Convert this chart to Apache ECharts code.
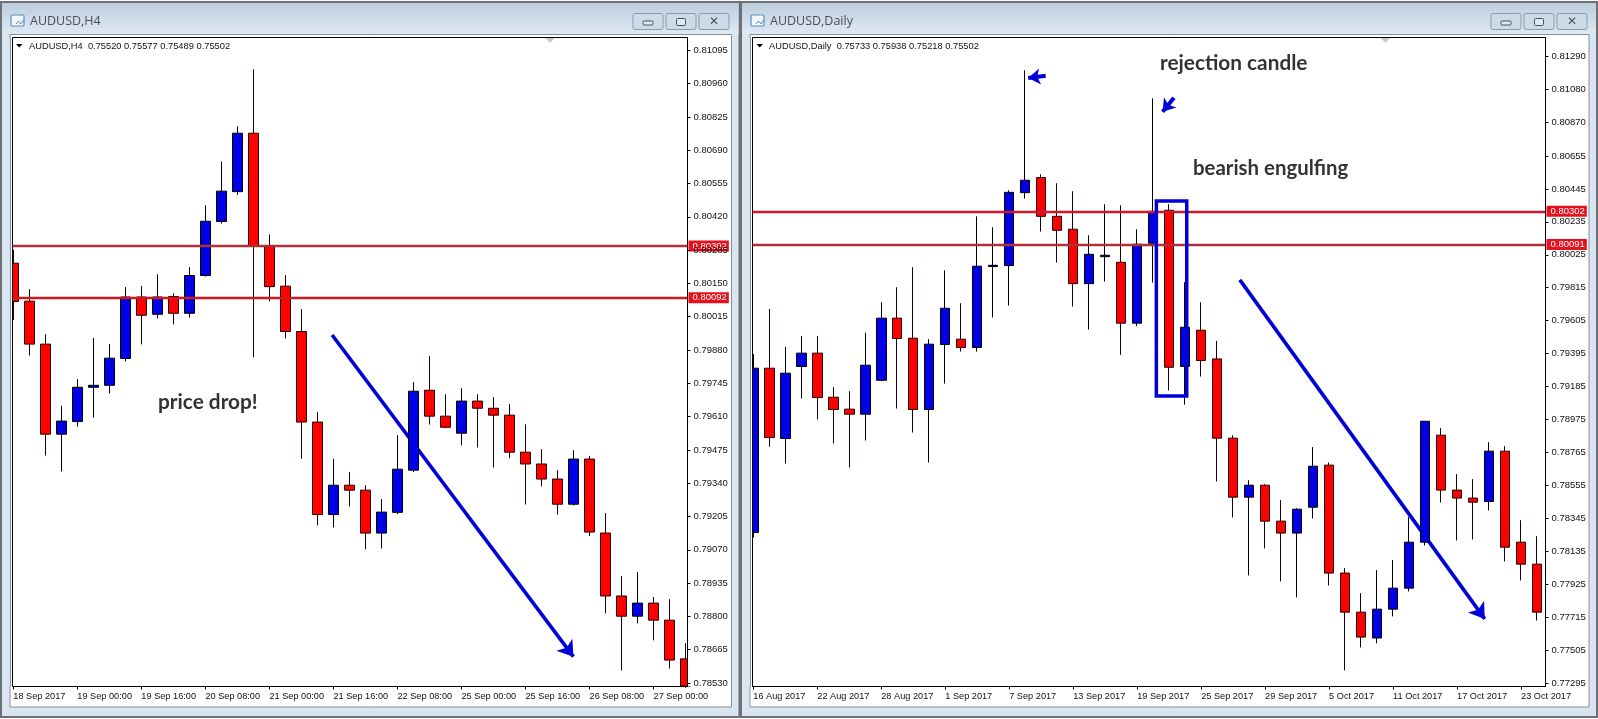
<!DOCTYPE html>
<html lang="en">
<head>
    <meta charset="UTF-8">
    <title>AUDUSD H4 / Daily</title>
    <style>
        *{
            margin:0;
            padding:0;
        }
        html,body{
            background:#fff;
            overflow:hidden;
        }
        #box{
            width:1598px;
            height:719px;
        }
    </style>
    <script src="https://cdn.jsdelivr.net/npm/echarts@6/dist/echarts.min.js"></script>
</head>
<body>
    <div id="box"></div>
    <script>
        // H4 window
        var h4Open = [.80232,.80078,.79904,.79539,.79590,.79729,.79737,.79846,.80095,.80025,.80097,.80029,.80182,.80401,.80522,.80759,.80302,.80139,.79955,.79588,.79213,.79332,.79312,.79138,.79222,.79393,.79717,.79612,.79543,.79673,.79644,.79616,.79466,.79418,.79357,.79255,.79438,.79138,.78883,.78801,.78854,.78785,.78628];
        var h4Close = [.80077,.79904,.79539,.79592,.79729,.79737,.79847,.80095,.80021,.80095,.80029,.80182,.80402,.80524,.80759,.80302,.80137,.79955,.79588,.79213,.79332,.79312,.79138,.79223,.79397,.79713,.79612,.79567,.79673,.79644,.79616,.79466,.79418,.79357,.79255,.79438,.79142,.78883,.78801,.78854,.78785,.78623,.78518];
        var h4Low = [.80002,.79858,.79452,.79388,.79570,.79606,.79704,.79834,.79903,.80009,.79984,.80012,.80178,.80393,.80509,.79850,.80077,.79927,.79439,.79169,.79161,.79246,.79072,.79076,.79215,.79385,.79578,.79563,.79493,.79485,.79404,.79441,.79254,.79327,.79213,.79250,.79126,.78812,.78581,.78772,.78703,.78589,.78510];
        var h4High = [.80286,.80127,.79944,.79654,.79762,.79929,.79904,.80135,.80140,.80187,.80110,.80216,.80467,.80644,.80787,.81018,.80349,.80184,.80046,.79628,.79439,.79385,.79332,.79276,.79535,.79750,.79856,.79701,.79725,.79701,.79689,.79661,.79579,.79478,.79393,.79474,.79450,.79219,.78964,.78980,.78879,.78870,.78692];
        var h4Prices = [.81095,.80960,.80825,.80690,.80555,.80420,.80285,.80150,.80015,.79880,.79745,.79610,.79475,.79340,.79205,.79070,.78935,.78800,.78665,.78530];
        var h4TickIdx = [0,4,8,12,16,20,24,28,32,36,40];
        var h4TickLabels = ['18 Sep 2017','19 Sep 00:00','19 Sep 16:00','20 Sep 08:00','21 Sep 00:00','21 Sep 16:00','22 Sep 08:00','25 Sep 00:00','25 Sep 16:00','26 Sep 08:00','27 Sep 00:00'];
        var h4Levels = [.80302,.80092];

        // Daily window
        var dayOpen = [.78255,.79302,.78854,.79313,.79398,.79117,.79041,.79009,.79225,.79621,.79493,.79039,.79453,.79487,.79434,.79950,.79956,.80421,.80517,.80270,.80188,.79841,.80013,.79977,.79589,.80098,.80309,.79313,.79544,.79361,.78856,.78480,.78556,.78327,.78251,.78416,.78684,.77996,.77747,.77582,.77766,.77900,.78193,.78875,.78525,.78474,.78452,.78773,.78193,.78053];
        var dayClose = [.79302,.78860,.79270,.79398,.79115,.79039,.79009,.79321,.79621,.79491,.79039,.79455,.79684,.79434,.79952,.79958,.80423,.80500,.80270,.80181,.79841,.80028,.80022,.79589,.80092,.80302,.79308,.79563,.79351,.78856,.78480,.78556,.78327,.78251,.78403,.78677,.77996,.77747,.77588,.77766,.77900,.78193,.78964,.78525,.78474,.78448,.78773,.78161,.78053,.77747];
        var dayLow = [.78223,.78801,.78694,.79109,.78975,.78822,.78669,.78841,.79219,.79045,.78892,.78701,.79204,.79408,.79408,.79625,.79701,.80383,.80173,.79975,.79695,.79548,.79854,.79387,.79570,.79848,.79160,.79070,.79249,.78580,.78350,.77981,.78153,.77943,.77841,.78344,.77917,.77376,.77522,.77548,.77720,.77879,.78172,.78446,.78204,.78210,.78395,.78070,.77949,.77694];
        var dayHigh = [.79393,.79680,.79438,.79508,.79508,.79181,.79155,.79529,.79722,.79818,.79946,.79487,.79926,.79716,.80270,.80200,.80436,.81201,.80538,.80481,.80430,.80149,.80347,.80341,.80188,.81022,.80347,.79850,.79722,.79476,.78875,.78588,.78563,.78461,.78410,.78799,.78701,.78028,.77868,.78015,.78079,.78353,.78964,.78920,.78627,.78595,.78830,.78805,.78333,.78231];
        var dayPrices = [.81290,.81080,.80870,.80655,.80445,.80235,.80025,.79815,.79605,.79395,.79185,.78975,.78765,.78555,.78345,.78135,.77925,.77715,.77505,.77295];
        var dayTickIdx = [0,4,8,12,16,20,24,28,32,36,40,44,48];
        var dayTickLabels = ['16 Aug 2017','22 Aug 2017','28 Aug 2017','1 Sep 2017','7 Sep 2017','13 Sep 2017','19 Sep 2017','25 Sep 2017','29 Sep 2017','5 Oct 2017','11 Oct 2017','17 Oct 2017','23 Oct 2017'];
        var dayLevels = [.80302,.80091];

        var UP = '#0000e6', DOWN = '#ff0000', ARROW = '#0000d8', FRAME = '#d9e5f1';
        var AXIS_FONT = 'Liberation Sans';

        function candles(o,c,l,h){
            return o.map(function(v,i){ return [i,v,c[i],l[i],h[i]]; });
        }

        function xAxis(gridIndex,min,max,ticks,labels){
            return {
                type:'value', gridIndex:gridIndex, min:min, max:max, position:'bottom', z:8,
                axisLine:{onZero:false,lineStyle:{color:'#000',width:1}},
                splitLine:{show:false},
                axisTick:{length:3,lineStyle:{color:'#000'},customValues:ticks},
                axisLabel:{
                    customValues:ticks, align:'left', margin:5, color:'#111',
                    fontFamily:AXIS_FONT, fontSize:9.2,
                    formatter:function(v){ return labels[ticks.indexOf(v)]; }
                }
            };
        }
        function yAxis(gridIndex,min,max,prices){
            return {
                type:'value', gridIndex:gridIndex, min:min, max:max, position:'right', scale:true, z:8,
                axisLine:{show:true,onZero:false,lineStyle:{color:'#000',width:1}},
                splitLine:{show:false},
                axisTick:{show:true,length:3,lineStyle:{color:'#000'},customValues:prices},
                axisLabel:{
                    customValues:prices, margin:6, color:'#111',
                    fontFamily:AXIS_FONT, fontSize:9.5,
                    formatter:function(v){ return v.toFixed(5); }
                }
            };
        }

        function levelLine(v,color){
            return {
                yAxis:v, symbol:'none',
                lineStyle:{color:color,width:2.4,type:'solid'},
                label:{
                    show:true, position:'end', distance:1, formatter:v.toFixed(5),
                    color:'#fff', backgroundColor:'#e8101c', padding:[1,2,0,4],
                    fontFamily:AXIS_FONT, fontSize:9.5
                }
            };
        }
        function arrow(x0,y0,x1,y1,width,size){
            return [
                {coord:[x0,y0],symbol:'none',lineStyle:{color:ARROW,width:width,type:'solid'},label:{show:false}},
                {coord:[x1,y1],symbol:'arrow',symbolSize:size}
            ];
        }
        function candleSeries(idx,o,c,l,h,levels,colors,extra){
            var s = {
                type:'candlestick', xAxisIndex:idx, yAxisIndex:idx, z:3, silent:true, barWidth:10,
                data:candles(o,c,l,h),
                itemStyle:{color:UP,color0:DOWN,borderColor:'#000',borderColor0:'#200',borderWidth:1},
                markLine:{
                    silent:true, symbol:'none', animation:false, z:5, precision:5,
                    data:levels.map(function(v,i){ return levelLine(v,colors[i]); })
                }
            };
            return Object.assign(s,extra||{});
        }
        function arrowSeries(idx,items){
            return {
                type:'line', xAxisIndex:idx, yAxisIndex:idx, z:1, silent:true, data:[],
                markLine:{silent:true, animation:false, z:1, precision:5, data:items}
            };
        }

        // window frames, drawn behind the charts
        function frame(x0,x1,title,btnX,titleIconX){
            var w = x1-x0, els = [];
            els.push({type:'rect',shape:{x:x0,y:2,width:w,height:715},style:{fill:FRAME,stroke:'#6b7177',lineWidth:2},z:-10});
            els.push({type:'rect',shape:{x:x0+1,y:3,width:w-2,height:31},z:-9,style:{fill:new echarts.graphic.LinearGradient(0,0,0,1,[{offset:0,color:'#bdcddd'},{offset:1,color:'#dfe9f3'}])}});
            els.push({type:'rect',shape:{x:x0+9,y:34.5,width:w-17,height:672.5},z:-8,style:{fill:'#fff',stroke:'#8a8f94',lineWidth:1}});
            els.push({type:'text',x:titleIconX+19,y:21.5,z:-7,style:{text:title,fill:'#4a4f55',font:'12.5px "Open Sans"',verticalAlign:'middle'}});
            els.push({type:'rect',shape:{x:titleIconX,y:15,width:13,height:11,r:1},z:-7,style:{fill:'#f2f6fa',stroke:'#5b8fc0',lineWidth:1.2}});
            els.push({type:'polyline',shape:{points:[[titleIconX+5,24],[titleIconX+7.5,21],[titleIconX+10,24],[titleIconX+12.5,20]]},z:-7,style:{fill:'none',stroke:'#5b8fc0',lineWidth:1}});
            for(var i=0;i<3;i++){
                els.push({type:'rect',shape:{x:btnX+33*i,y:13.5,width:30,height:16,r:2},z:-7,style:{fill:'#cddbe9',stroke:'#8b9bab',lineWidth:1}});
            }
            els.push({type:'rect',shape:{x:btnX+10,y:21,width:10,height:4,r:1},z:-6,style:{fill:'#dfe8f1',stroke:'#4b5158',lineWidth:1}});
            els.push({type:'rect',shape:{x:btnX+43.5,y:18.5,width:9,height:7,r:1},z:-6,style:{fill:'#dfe8f1',stroke:'#4b5158',lineWidth:1}});
            els.push({type:'text',x:btnX+81,y:21.5,z:-6,style:{text:'✕',fill:'#4b5158',font:'bold 12px "DejaVu Sans"',align:'center',verticalAlign:'middle'}});
            return els;
        }
        // candles sticking out of the plot are cut by these strips
        function cutLeft(x0,plotLeft){
            return [
                {type:'rect',shape:{x:x0+6,y:38,width:3,height:648},z:4,style:{fill:FRAME}},
                {type:'rect',shape:{x:x0+9,y:38,width:1,height:648},z:4,style:{fill:'#8a8f94'}},
                {type:'rect',shape:{x:x0+10,y:38,width:plotLeft-x0-10,height:648},z:4,style:{fill:'#fff'}},
                {type:'rect',shape:{x:plotLeft,y:37.5,width:1,height:649},z:4,style:{fill:'#000'}}
            ];
        }
        function cutRight(plotRight){
            return [{type:'rect',shape:{x:plotRight,y:38,width:6,height:648},z:4,style:{fill:'#fff'}}];
        }
        function headerText(triX,x,text){
            return [
                {type:'polygon',shape:{points:[[triX,44],[triX+6.5,44],[triX+3.2,47.5]]},z:10,style:{fill:'#000'}},
                {type:'text',x:x,y:46,z:10,style:{text:text,fill:'#111',font:'9.3px "Liberation Sans"',verticalAlign:'middle'}}
            ];
        }
        function noteText(x,y,size,text){
            return {type:'text',x:x,y:y,z:10,style:{text:text,fill:'#333',font:'bold '+size+'px Lato',verticalAlign:'middle'}};
        }
        function notch(x){
            return {type:'polygon',shape:{points:[[x-4.5,38],[x+4.5,38],[x,43]]},z:10,style:{fill:'#c8c8c8'}};
        }

        var graphics = []
            .concat(frame(1,739.5,'AUDUSD,H4',633,11))
            .concat(frame(741,1597,'AUDUSD,Daily',1491,751))
            .concat(cutLeft(1,12)).concat(cutRight(688))
            .concat(cutLeft(741,752))
            .concat(headerText(16,29,'AUDUSD,H4  0.75520 0.75577 0.75489 0.75502'))
            .concat(headerText(756.5,769,'AUDUSD,Daily  0.75733 0.75938 0.75218 0.75502'))
            .concat([
                notch(550), notch(1385.5),
                noteText(158,402,20.8,'price drop!'),
                noteText(1160,63.5,20.8,'rejection candle'),
                noteText(1193,168.5,20.4,'bearish engulfing')
            ]);

        var myChart = echarts.init(document.getElementById('box'),null,{renderer:'canvas'});
        var option = {
            animation:false,
            backgroundColor:'#fff',
            graphic:{elements:graphics},
            grid:[
                {left:12.5,top:37.5,width:675,height:649,show:true,borderColor:'#000',borderWidth:1,backgroundColor:'transparent'},
                {left:752.5,top:37.5,width:793,height:649,show:true,borderColor:'#000',borderWidth:1,backgroundColor:'transparent'}
            ],
            xAxis:[
                xAxis(0,-0.05,42.12,h4TickIdx,h4TickLabels),
                xAxis(1,-0.05,49.53,dayTickIdx,dayTickLabels)
            ],
            yAxis:[
                yAxis(0,.78516,.81147,h4Prices),
                yAxis(1,.77273,.81410,dayPrices)
            ],
            series:[
                arrowSeries(0,[arrow(19.92,.79941,34.99,.78637,3.6,15)]),
                arrowSeries(1,[
                    arrow(30.42,.79865,45.73,.77704,3.6,15),
                    arrow(18.28,.81166,17.19,.81152,4,12),
                    arrow(26.30,.81026,25.59,.80937,4,12)
                ]),
                candleSeries(0,h4Open,h4Close,h4Low,h4High,h4Levels,['#b03038','#d01820']),
                candleSeries(1,dayOpen,dayClose,dayLow,dayHigh,dayLevels,['#d01828','#b03038'],{
                    markArea:{
                        silent:true, z:6, precision:5,
                        itemStyle:{color:'rgba(0,0,0,0)',borderColor:ARROW,borderWidth:3.5},
                        data:[[{coord:[25.2,.80368]},{coord:[27.1,.79125]}]]
                    }
                })
            ]
        };
        myChart.setOption(option);
    </script>
</body>
</html>
